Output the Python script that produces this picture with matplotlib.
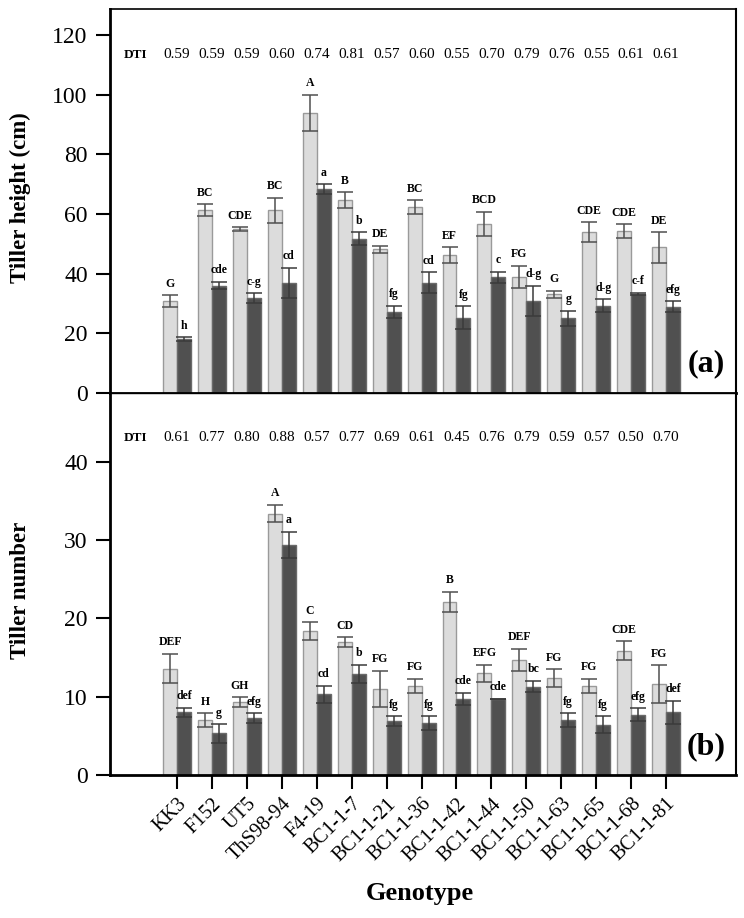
import numpy as np
import matplotlib
matplotlib.use("Agg")
import matplotlib.pyplot as plt

# -------- DATA --------
genotypes = ["KK3", "F152", "UT5", "ThS98-94", "F4-19", "BC1-1-7", "BC1-1-21",
             "BC1-1-36", "BC1-1-42", "BC1-1-44", "BC1-1-50", "BC1-1-63",
             "BC1-1-65", "BC1-1-68", "BC1-1-81"]

# tiller height (cm): control (light) / stress (dark)
height_ctrl = [30.8, 61.2, 55.0, 61.2, 93.9, 64.6, 48.2, 62.3, 46.2, 56.6, 39.0, 33.1, 53.9, 54.3, 48.8]
height_ctrl_err = [2.0, 2.0, 0.6, 4.2, 6.0, 2.6, 1.2, 2.3, 2.7, 4.1, 3.7, 1.1, 3.3, 2.3, 5.1]
height_str = [18.0, 36.0, 31.8, 37.0, 68.3, 51.7, 27.2, 37.0, 25.3, 38.8, 30.9, 25.1, 29.3, 33.2, 28.9]
height_str_err = [0.6, 1.3, 1.6, 5.0, 1.7, 2.2, 2.0, 3.5, 3.7, 1.8, 5.1, 2.5, 2.1, 0.4, 1.9]
height_ctrl_let = ["G", "BC", "CDE", "BC", "A", "B", "DE", "BC", "EF", "BCD", "FG", "G", "CDE", "CDE", "DE"]
height_str_let = ["h", "cde", "c-g", "cd", "a", "b", "fg", "cd", "fg", "c", "d-g", "g", "d-g", "c-f", "efg"]
height_dti = ["0.59", "0.59", "0.59", "0.60", "0.74", "0.81", "0.57", "0.60", "0.55", "0.70", "0.79", "0.76", "0.55", "0.61", "0.61"]

# tiller number
number_ctrl = [13.6, 7.0, 9.3, 33.4, 18.4, 17.0, 11.0, 11.4, 22.1, 13.0, 14.7, 12.4, 11.4, 15.9, 11.6]
number_ctrl_err = [1.9, 0.9, 0.6, 1.1, 1.1, 0.6, 2.3, 0.9, 1.3, 1.1, 1.4, 1.1, 0.9, 1.2, 2.4]
number_str = [8.0, 5.3, 7.3, 29.4, 10.3, 12.9, 6.9, 6.6, 9.7, 9.7, 11.3, 7.0, 6.4, 7.7, 8.0]
number_str_err = [0.6, 1.2, 0.6, 1.7, 1.1, 1.2, 0.6, 0.9, 0.8, 0.0, 0.7, 0.9, 1.1, 0.8, 1.5]
number_ctrl_let = ["DEF", "H", "GH", "A", "C", "CD", "FG", "FG", "B", "EFG", "DEF", "FG", "FG", "CDE", "FG"]
number_str_let = ["def", "g", "efg", "a", "cd", "b", "fg", "fg", "cde", "cde", "bc", "fg", "fg", "efg", "def"]
number_dti = ["0.61", "0.77", "0.80", "0.88", "0.57", "0.77", "0.69", "0.61", "0.45", "0.76", "0.79", "0.59", "0.57", "0.50", "0.70"]

plt.rcParams['font.family'] = ['Liberation Serif', 'DejaVu Serif']

LIGHT = "#dcdcdc"
DARK = "#505050"
w = 0.4
x = np.arange(len(genotypes))


def draw_panel(ax, ctrl, ctrl_err, stress, stress_err, let_c, let_s, dti, ylim, ticks, dti_y, tag):
    ax.bar(x - w / 2, ctrl, w, color=LIGHT, edgecolor="#9a9a9a", linewidth=1.0, zorder=2)
    ax.bar(x + w / 2, stress, w, color=DARK, edgecolor="#6a6a6a", linewidth=1.0, zorder=2)
    ax.errorbar(x - w / 2, ctrl, yerr=ctrl_err, fmt="none", ecolor="#505050",
                elinewidth=1.1, capsize=6, capthick=1.1, zorder=3)
    ax.errorbar(x + w / 2, stress, yerr=stress_err, fmt="none", ecolor="#3a3a3a",
                elinewidth=1.1, capsize=6, capthick=1.1, zorder=3)
    for i in range(len(x)):
        ax.annotate(let_c[i], (x[i] - w / 2, ctrl[i] + ctrl_err[i]), xytext=(0, 4),
                    textcoords="offset points", ha="center", va="bottom",
                    fontsize=8.5, fontweight="bold")
        ax.annotate(let_s[i], (x[i] + w / 2, stress[i] + stress_err[i]), xytext=(0, 4),
                    textcoords="offset points", ha="center", va="bottom",
                    fontsize=8.5, fontweight="bold")
        ax.text(x[i], dti_y, dti[i], ha="center", va="center", fontsize=11)
    ax.text(-1.2, dti_y, "DTI", ha="center", va="center", fontsize=9.5, fontweight="bold")
    ax.text(0.953, 0.075, tag, transform=ax.transAxes, ha="center", va="center",
            fontsize=23, fontweight="bold")
    ax.set_xlim(-1.92, 16.0)
    ax.set_ylim(*ylim)
    ax.set_yticks(ticks)
    ax.tick_params(axis="y", direction="out", length=10, width=1.5, labelsize=17, pad=6)
    ax.spines["left"].set_linewidth(2.0)
    ax.spines["right"].set_linewidth(1.5)
    ax.spines["top"].set_linewidth(1.2)
    ax.spines["bottom"].set_linewidth(2.0)


fig = plt.figure(figsize=(7.44, 9.18), dpi=100)
ax1 = fig.add_axes([0.1478, 0.5719, 0.8414, 0.4183])
ax2 = fig.add_axes([0.1478, 0.1558, 0.8414, 0.4161])

draw_panel(ax1, height_ctrl, height_ctrl_err, height_str, height_str_err,
           height_ctrl_let, height_str_let, height_dti, (0, 128.7),
           [0, 20, 40, 60, 80, 100, 120], 113.4, "(a)")
draw_panel(ax2, number_ctrl, number_ctrl_err, number_str, number_str_err,
           number_ctrl_let, number_str_let, number_dti, (0, 48.8),
           [0, 10, 20, 30, 40], 43.1, "(b)")

ax1.set_xticks([])
ax2.spines["top"].set_linewidth(1.0)
ax2.set_xticks(x)
ax2.set_xticklabels(genotypes, rotation=45, ha="right", rotation_mode="anchor", fontsize=14.5)
ax2.tick_params(axis="x", direction="out", length=10, width=1.5, pad=4)

fig.text(0.027, 0.785, "Tiller height (cm)", rotation=90, ha="center", va="center",
         fontsize=16.5, fontweight="bold")
fig.text(0.027, 0.357, "Tiller number", rotation=90, ha="center", va="center",
         fontsize=16.5, fontweight="bold")
fig.text(0.5645, 0.027, "Genotype", ha="center", va="center", fontsize=19, fontweight="bold")

fig.savefig("out.png", dpi=100)
